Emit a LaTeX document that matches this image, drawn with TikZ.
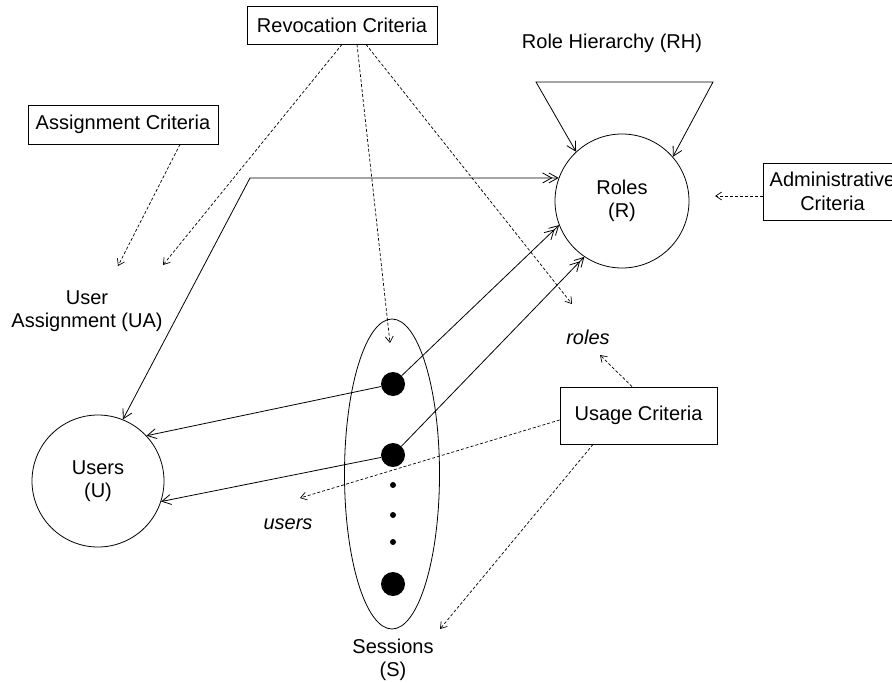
\documentclass[tikz,border=0pt]{standalone}
\usepackage{fontspec}
\setmainfont{Liberation Sans}
\usetikzlibrary{arrows.meta,shapes.geometric}
\tikzset{
  utip/.tip={Straight Barb[length=9pt,width=10pt]},
  rtip/.tip={Straight Barb[length=9pt,width=10pt,sep=-4pt]Straight Barb[length=9pt,width=10pt]},
  dtip/.tip={Straight Barb[length=6pt,width=8pt]},
}
\begin{document}
\begin{tikzpicture}[x=1pt,y=-1pt,
  every node/.style={font=\fontsize{20}{23.5}\selectfont, inner sep=0pt},
  box/.style={draw, line width=0.8pt, align=center},
  ring/.style={draw, circle, line width=0.8pt, align=center},
  bigdot/.style={circle, fill=black, minimum size=24pt},
  smalldot/.style={circle, fill=black, minimum size=6pt},
  link/.style={line width=0.8pt},
  hint/.style={line width=0.7pt, dash pattern=on 3pt off 2pt, -{dtip}},
  label/.style={align=center},
]
\useasboundingbox (0,0) rectangle (892,683);

% criteria boxes
\node[box, minimum width=190pt, minimum height=38pt] (rev) at (342,25) {Revocation Criteria};
\node[box, minimum width=190pt, minimum height=39pt] (asg) at (123,124.5) {Assignment Criteria};
\node[box, minimum width=157pt, minimum height=57pt] (usage) at (638.5,415.5) {Usage Criteria};
\node[box, minimum width=139pt, minimum height=57pt] (adm) at (832.5,191.5) {Administrative\\Criteria};

% main elements
\node[ring, minimum size=134pt] (roles) at (622,201) {Roles\\(R)};
\node[ring, minimum size=132pt] (users) at (98,481) {Users\\(U)};
\node[draw, ellipse, line width=0.8pt, minimum width=95pt, minimum height=310pt] (sessions) at (392,474) {};

\node[bigdot] (s1) at (393,384) {};
\node[bigdot] (s2) at (393,455) {};
\node[smalldot] (d1) at (393,485) {};
\node[smalldot] (d2) at (393,515) {};
\node[smalldot] (d3) at (393,542) {};
\node[bigdot] (s3) at (393,584) {};

% labels
\node[label] (rhlabel) at (612,43) {Role Hierarchy (RH)};
\node[label] (ualabel) at (87,311) {User\\Assignment (UA)};
\node[label] (slabel) at (393,660) {Sessions\\(S)};
\node[label, font=\fontsize{20}{23.5}\selectfont\itshape] (rlabel) at (588,337) {roles};
\node[label, font=\fontsize{20}{23.5}\selectfont\itshape] (ulabel) at (288,524) {users};

% free ends and bends
\coordinate (corner) at (250,178);
\coordinate (tl) at (536,82);
\coordinate (tr) at (713,82);
\coordinate (uaend) at (118,266);
\coordinate (revA) at (163,265);
\coordinate (revS) at (390,343);
\coordinate (revR) at (572,304);
\coordinate (admEnd) at (715,196);
\coordinate (rolesEnd) at (600,355);
\coordinate (usersEnd) at (300,498);
\coordinate (sessEnd) at (440,629);

% role hierarchy
\draw[link, {utip}-{utip}] (roles.133) -- (tl) -- (tr) -- (roles.41);

% user assignment
\draw[link, {utip}-{rtip}] (users.68) -- (corner) -- (roles.160);

% session links
\draw[link, -{utip}] (s1) -- (users.43);
\draw[link, -{utip}] (s2) -- (users.-18);
\draw[link, -{rtip}] (s1) -- (roles.201);
\draw[link, -{rtip}] (s2) -- (roles.236);

% criteria hints
\draw[hint] ([xshift=57pt]asg.south) -- (uaend);
\draw[hint] (rev.south) -- (revA);
\draw[hint] ([xshift=15pt]rev.south) -- (revS);
\draw[hint] ([xshift=24pt]rev.south) -- (revR);
\draw[hint] ([yshift=-4.5pt]adm.west) -- (admEnd);
\draw[hint] ([xshift=-6.5pt]usage.north) -- (rolesEnd);
\draw[hint] ([yshift=-4.5pt]usage.west) -- (usersEnd);
\draw[hint] ([xshift=-45.5pt]usage.south) -- (sessEnd);
\end{tikzpicture}
\end{document}
